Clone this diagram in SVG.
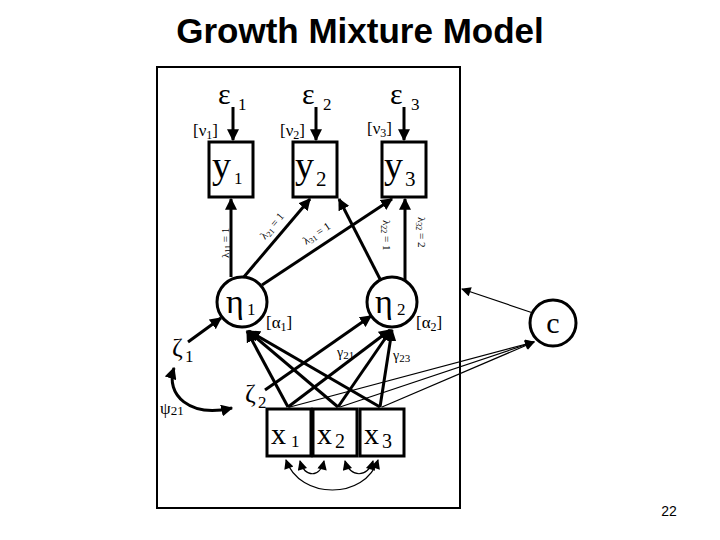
<svg xmlns="http://www.w3.org/2000/svg" width="720" height="540" viewBox="0 0 720 540">
<style>
.t{font-family:"Liberation Serif","DejaVu Serif",serif;fill:#000}
.big{font-size:38px}
.mid{font-size:30px}
.sm{font-size:17px}
.xs{font-size:11px}
.box{fill:#fff;stroke:#000;stroke-width:3}
.cir{fill:#fff;stroke:#000;stroke-width:3}
.ln{stroke:#000;stroke-width:3;fill:none}
.thin{stroke:#000;stroke-width:1.2;fill:none}
</style>
<defs>
<marker id="ah" viewBox="0 0 10 10" refX="9" refY="5" markerWidth="4" markerHeight="4" orient="auto-start-reverse" markerUnits="strokeWidth"><path d="M0,0L10,5L0,10z" fill="#000"/></marker>
<marker id="ahT" viewBox="0 0 10 10" refX="9" refY="5" markerWidth="10" markerHeight="8" orient="auto-start-reverse" markerUnits="strokeWidth"><path d="M0,0L10,5L0,10z" fill="#000"/></marker>
</defs>
<rect width="720" height="540" fill="#fff"/>
<text x="360" y="43" text-anchor="middle" font-family="Liberation Sans, Arial, sans-serif" font-weight="bold" font-size="35">Growth Mixture Model</text>
<rect x="157" y="67" width="303" height="441" fill="none" stroke="#000" stroke-width="2"/>

<g id="connectors">
<line class="ln" x1="233" y1="107" x2="233" y2="140" marker-end="url(#ah)"/>
<line class="ln" x1="316" y1="107" x2="316" y2="140" marker-end="url(#ah)"/>
<line class="ln" x1="404" y1="107" x2="404" y2="140" marker-end="url(#ah)"/>
<line class="ln" x1="231" y1="277" x2="231" y2="199" marker-end="url(#ah)"/>
<line class="ln" x1="243" y1="278" x2="310" y2="199" marker-end="url(#ah)"/>
<line class="ln" x1="262" y1="285" x2="392" y2="199" marker-end="url(#ah)"/>
<line class="ln" x1="380" y1="279" x2="339" y2="199" marker-end="url(#ah)"/>
<line class="ln" x1="405" y1="280" x2="405" y2="199" marker-end="url(#ah)"/>
<line class="ln" x1="188" y1="342" x2="221" y2="318" marker-end="url(#ah)"/>
<line class="ln" x1="265" y1="390" x2="371" y2="316" marker-end="url(#ah)"/>
<line class="ln" x1="288" y1="407" x2="247" y2="331" marker-end="url(#ah)"/>
<line class="ln" x1="338" y1="407" x2="248" y2="331" marker-end="url(#ah)"/>
<line class="ln" x1="380" y1="407" x2="249" y2="331" marker-end="url(#ah)"/>
<line class="ln" x1="288" y1="407" x2="390" y2="330" marker-end="url(#ah)"/>
<line class="ln" x1="338" y1="407" x2="391" y2="330" marker-end="url(#ah)"/>
<line class="ln" x1="380" y1="407" x2="392" y2="330" marker-end="url(#ah)"/>
<line class="thin" x1="290" y1="407" x2="534" y2="342" marker-end="url(#ahT)"/>
<line class="thin" x1="340" y1="407" x2="534" y2="342" marker-end="url(#ahT)"/>
<line class="thin" x1="382" y1="407" x2="534" y2="342" marker-end="url(#ahT)"/>
<line class="thin" x1="533" y1="313" x2="462" y2="289" marker-end="url(#ahT)"/>
<path class="ln" d="M174,368 C165,395 190,418 232,408" marker-start="url(#ah)" marker-end="url(#ah)"/>
<path class="thin" d="M300,461 C305,478 320,478 324,461" stroke-width="1.6" marker-start="url(#ahT)" marker-end="url(#ahT)"/>
<path class="thin" d="M345,461 C350,478 368,478 373,461" stroke-width="1.6" marker-start="url(#ahT)" marker-end="url(#ahT)"/>
<path class="thin" d="M286,460 C300,500 365,500 378,460" stroke-width="1.6" marker-start="url(#ahT)" marker-end="url(#ahT)"/>
</g>

<g id="eps1"><text class="t mid" x="218" y="104">ε</text><text class="t sm" x="238" y="110">1</text></g>
<g id="eps2"><text class="t mid" x="302" y="104">ε</text><text class="t sm" x="323" y="110">2</text></g>
<g id="eps3"><text class="t mid" x="390" y="104">ε</text><text class="t sm" x="411" y="110">3</text></g>

<g id="nu"><text class="t sm" x="193" y="136">[ν<tspan font-size="12" dy="3">1</tspan><tspan dy="-3">]</tspan></text>
<text class="t sm" x="280" y="136">[ν<tspan font-size="12" dy="3">2</tspan><tspan dy="-3">]</tspan></text>
<text class="t sm" x="367" y="134">[ν<tspan font-size="12" dy="3">3</tspan><tspan dy="-3">]</tspan></text></g>

<g id="y1"><rect class="box" x="209" y="142" width="44" height="55"/><text class="t big" x="212" y="178">y</text><text class="t sm" x="234" y="184">1</text></g>
<g id="y2"><rect class="box" x="293" y="142" width="44" height="55"/><text class="t big" x="295" y="178">y</text><text class="t" font-size="21" x="316" y="186">2</text></g>
<g id="y3"><rect class="box" x="382" y="142" width="44" height="55"/><text class="t big" x="384" y="178">y</text><text class="t" font-size="21" x="405" y="186">3</text></g>

<g id="loadings">
<text class="t xs" transform="translate(229,258) rotate(-90)">λ<tspan font-size="8" dy="2">11</tspan><tspan dy="-2"> = 1</tspan></text>
<text class="t xs" transform="translate(265,240) rotate(-50)">λ<tspan font-size="8" dy="2">21</tspan><tspan dy="-2"> = 1</tspan></text>
<text class="t xs" transform="translate(306,245) rotate(-34)">λ<tspan font-size="8" dy="2">31</tspan><tspan dy="-2"> = 1</tspan></text>
<text class="t xs" transform="translate(383,220) rotate(90)">λ<tspan font-size="8" dy="2">22</tspan><tspan dy="-2"> = 1</tspan></text>
<text class="t xs" transform="translate(418,217) rotate(90)">λ<tspan font-size="8" dy="2">32</tspan><tspan dy="-2"> = 2</tspan></text>
</g>

<g id="eta1"><circle class="cir" cx="242" cy="302" r="25"/><text class="t" font-size="34" x="226" y="313">η</text><text class="t sm" x="247" y="315">1</text></g>
<g id="eta2"><circle class="cir" cx="392" cy="302" r="25"/><text class="t" font-size="34" x="375" y="313">η</text><text class="t sm" x="397" y="315">2</text></g>
<text class="t sm" x="266" y="328">[α<tspan font-size="12" dy="3">1</tspan><tspan dy="-3">]</tspan></text>
<text class="t sm" x="416" y="328">[α<tspan font-size="12" dy="3">2</tspan><tspan dy="-3">]</tspan></text>

<g id="zeta1"><text class="t" font-size="26" x="172" y="356">ζ</text><text class="t sm" x="185" y="362">1</text></g>
<g id="zeta2"><text class="t" font-size="26" x="245" y="402">ζ</text><text class="t sm" x="258" y="408">2</text></g>
<text class="t sm" x="160" y="414">ψ<tspan font-size="13" dy="1">21</tspan></text>
<text class="t" font-size="14" x="337" y="357">γ<tspan font-size="11" dy="2">21</tspan></text>
<text class="t" font-size="14" x="393" y="360">γ<tspan font-size="11" dy="2">23</tspan></text>

<g id="c"><circle class="cir" cx="553" cy="323" r="23"/><text class="t" font-size="30" x="553" y="333" text-anchor="middle">c</text></g>

<g id="x1"><rect class="box" x="267" y="409" width="44" height="47"/><text class="t mid" x="271" y="444">x</text><text class="t sm" x="291" y="447">1</text></g>
<g id="x2"><rect class="box" x="313" y="409" width="44" height="47"/><text class="t mid" x="317" y="444">x</text><text class="t" font-size="20" x="335" y="448">2</text></g>
<g id="x3"><rect class="box" x="360" y="409" width="44" height="47"/><text class="t mid" x="364" y="444">x</text><text class="t" font-size="20" x="382" y="448">3</text></g>

<text x="669" y="516" text-anchor="middle" font-family="Liberation Sans, Arial, sans-serif" font-size="14">22</text>
</svg>
